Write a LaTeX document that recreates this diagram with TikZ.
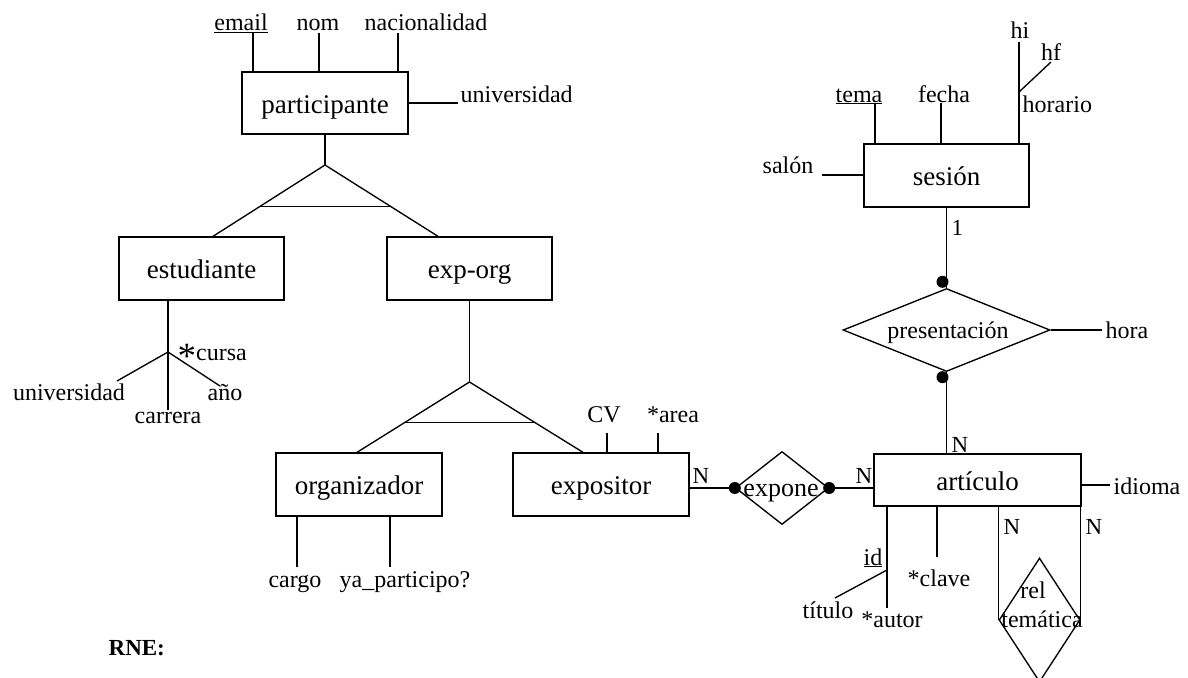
\documentclass[tikz,border=0pt]{standalone}
\usepackage{fontspec}
\setmainfont{Liberation Serif}
\usetikzlibrary{shapes.geometric,calc}
\begin{document}
\begin{tikzpicture}[x=1pt,y=-1pt, line width=1.35pt,
  ent/.style={draw, inner sep=0pt, text height=20pt, text depth=0pt, font=\fontsize{27}{30}\selectfont},
  attrtxt/.style={inner sep=0pt, font=\fontsize{24}{26}\selectfont},
  reldia/.style={draw, diamond, inner sep=0pt},
  reltxt/.style={inner sep=0pt, font=\fontsize{24}{26}\selectfont},
  cardtxt/.style={inner sep=0pt, font=\fontsize{23}{25}\selectfont},
  dotr/.style={fill=black}
]
\useasboundingbox (0,0) rectangle (1188,677);

% ---------- entities ----------
\node[ent, minimum width=166, minimum height=62] (part) at (325,103) {participante};
\node[ent, minimum width=165, minimum height=63] (estud) at (201.5,268.5) {estudiante};
\node[ent, minimum width=165, minimum height=63] (exporg) at (469.5,268.5) {exp-org};
\node[ent, minimum width=166, minimum height=63] (org) at (359,484.5) {organizador};
\node[ent, minimum width=176, minimum height=63] (expo) at (601,484.5) {expositor};
\node[ent, minimum width=207, minimum height=52] (art) at (977.5,480) {artículo};
\node[ent, minimum width=165, minimum height=63] (ses) at (946.5,175.5) {sesión};

% ---------- relationships ----------
\node[reldia, minimum width=93, minimum height=73] (expone) at (782,488) {};
\node[reltxt, anchor=base, font=\fontsize{26}{28}\selectfont] (exponetxt) at (781,496) {expone};
\node[reldia, minimum width=207, minimum height=83] (pres) at (946.5,330) {};
\node[reltxt, anchor=base] (prestxt) at (948,338) {presentación};
\node[reldia, minimum width=81, minimum height=124] (relt) at (1039.5,620) {};
\node[reltxt, anchor=base] (reltxtA) at (1033,598) {rel};
\node[reltxt, anchor=base] (reltxtB) at (1042,627) {temática};

% ---------- participante attributes ----------
\node[attrtxt, anchor=base] (aemail) at (241,31) {\underline{email}};
\node[attrtxt, anchor=base] (anom) at (318,31) {nom};
\node[attrtxt, anchor=base] (anac) at (426,31) {nacionalidad};
\node[attrtxt, anchor=base west] (auniv) at (460,102) {universidad};
\coordinate (cemail) at (253,33);
\coordinate (cnom) at (319,33);
\coordinate (cnac) at (398,33);
\coordinate (cuniv) at (458,103);
\draw (cemail) -- (cemail |- part.north);
\draw (cnom) -- (cnom |- part.north);
\draw (cnac) -- (cnac |- part.north);
\draw (part.east) -- (cuniv);

% ---------- ISA 1 ----------
\coordinate (isa1) at (325,165);
\coordinate (isa1L) at ($(estud.north)+(11.5,0)$);
\coordinate (isa1R) at ($(exporg.north)+(-31.5,0)$);
\draw (part.south) -- (isa1);
\draw (isa1L) -- (isa1) -- (isa1R);
\draw ($(isa1)!0.58!(isa1L)$) -- ($(isa1)!0.58!(isa1R)$);

% ---------- estudiante attributes ----------
\coordinate (cj) at (168,352);
\coordinate (cjU) at (117,381);
\coordinate (cjA) at (220,386);
\coordinate (cjC) at (168,410);
\draw (cj |- estud.south) -- (cj);
\draw (cj) -- (cjU);
\draw (cj) -- (cjA);
\draw (cj) -- (cjC);
\node[attrtxt, anchor=base west] (acursa) at (177,360) {\raisebox{-8pt}{\fontsize{37}{37}\selectfont *}cursa};
\node[attrtxt, anchor=base] (auniv2) at (69,400) {universidad};
\node[attrtxt, anchor=base] (aanio) at (225,400) {año};
\node[attrtxt, anchor=base] (acarr) at (168,423) {carrera};

% ---------- ISA 2 ----------
\coordinate (isa2) at (469.5,382);
\coordinate (isa2L) at ($(org.north)+(-2,0)$);
\coordinate (isa2R) at ($(expo.north)+(-18,0)$);
\draw (exporg.south) -- (isa2);
\draw (isa2L) -- (isa2) -- (isa2R);
\draw ($(isa2)!0.577!(isa2L)$) -- ($(isa2)!0.577!(isa2R)$);

% ---------- organizador attributes ----------
\coordinate (ccargo) at (297,567);
\coordinate (cya) at (390,567);
\draw (ccargo |- org.south) -- (ccargo);
\draw (cya |- org.south) -- (cya);
\node[attrtxt, anchor=base] (acargo) at (295,587) {cargo};
\node[attrtxt, anchor=base] (aya) at (405,587) {ya\_participo?};

% ---------- expositor attributes ----------
\coordinate (ccv) at (607,433);
\coordinate (carea) at (658,433);
\draw (ccv) -- (ccv |- expo.north);
\draw (carea) -- (carea |- expo.north);
\node[attrtxt, anchor=base] (acv) at (604,422) {CV};
\node[attrtxt, anchor=base] (aarea) at (673,422) {*area};

% ---------- expone connections ----------
\draw (expone.west -| expo.east) -- (expone.west);
\draw (expone.east) -- (expone.east -| art.west);
\fill[dotr] (expone.west) circle (6);
\fill[dotr] (expone.east) circle (6);
\node[cardtxt, anchor=base west] (n1) at (692,483) {N};
\node[cardtxt, anchor=base east] (n2) at (873,483) {N};

% ---------- articulo attributes ----------
\coordinate (cidv) at (887,608);
\coordinate (cid) at (887,570);
\coordinate (ctit) at (835,598);
\coordinate (cclave) at (937,557);
\coordinate (cidioma) at (1110,485);
\draw (cidv |- art.south) -- (cidv);
\draw (cid) -- (ctit);
\draw (cclave |- art.south) -- (cclave);
\draw (art.east |- cidioma) -- (cidioma);
\node[attrtxt, anchor=base east] (aid) at (883,565) {\underline{id}};
\node[attrtxt, anchor=base] (atit) at (828,618) {título};
\node[attrtxt, anchor=base] (aautor) at (892,627) {*autor};
\node[attrtxt, anchor=base] (aclave) at (939,586) {*clave};
\node[attrtxt, anchor=base west] (aidioma) at (1113,494) {idioma};

% ---------- rel tematica ----------
\draw (relt.west |- art.south) -- (relt.west);
\draw (relt.east) -- (relt.east |- art.south);
\node[cardtxt, anchor=base west] (n4) at (1003,534) {N};
\node[cardtxt, anchor=base west] (n5) at (1085,534) {N};

% ---------- sesion attributes ----------
\coordinate (ctema) at (875,103);
\coordinate (cfecha) at (941,103);
\coordinate (chi) at (1019,42);
\coordinate (chb) at (1019,92);
\coordinate (chf) at (1051,62);
\coordinate (csalon) at (822,175);
\draw (ctema) -- (ctema |- ses.north);
\draw (cfecha) -- (cfecha |- ses.north);
\draw (chi |- ses.north) -- (chi);
\draw (chb) -- (chf);
\draw (csalon) -- (csalon -| ses.west);
\node[attrtxt, anchor=base] (atema) at (859,102) {\underline{tema}};
\node[attrtxt, anchor=base] (afecha) at (944,102) {fecha};
\node[attrtxt, anchor=base] (ahi) at (1020,39) {hi};
\node[attrtxt, anchor=base] (ahf) at (1051,61) {hf};
\node[attrtxt, anchor=base west] (ahor) at (1022,112) {horario};
\node[attrtxt, anchor=base east] (asalon) at (814,173) {salón};

% ---------- presentacion ----------
\draw (ses.south -| pres.north) -- (pres.north);
\draw (pres.south) -- (pres.south |- art.north);
\fill[dotr] ($(pres.north)+(-4,-6)$) circle (6);
\fill[dotr] ($(pres.south)+(-4,5)$) circle (6);
\coordinate (chora) at (1102,330);
\draw (pres.east) -- (chora);
\node[attrtxt, anchor=base west] (ahora) at (1105,338) {hora};
\node[cardtxt, anchor=base west] (n0) at (951,235) {1};
\node[cardtxt, anchor=base west] (n3) at (951,452) {N};

% ---------- RNE ----------
\node[attrtxt, anchor=base west, font=\fontsize{23}{25}\selectfont\bfseries] (rne) at (108,655) {RNE:};
\end{tikzpicture}
\end{document}
